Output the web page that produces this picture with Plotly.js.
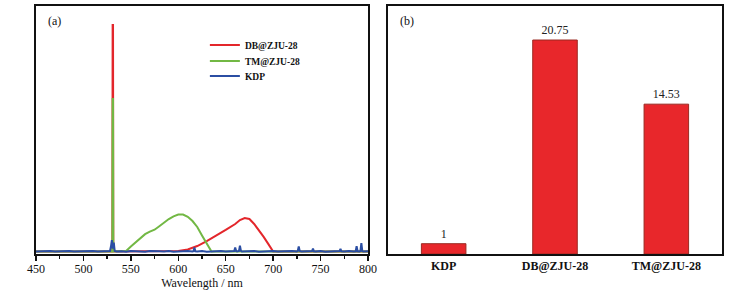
<!DOCTYPE html>
<html>
<head>
<meta charset="utf-8">
<script src="https://cdn.plot.ly/plotly-3.0.1.min.js"></script>
<style>
html,body{margin:0;padding:0;background:#fff;}
#chart{width:745px;height:294px;}
</style>
</head>
<body>
<div id="chart"></div>
<script>
// ---- Panel (a): SHG spectra (arbitrary intensity units) ----
var dbWavelength = [450, 530.5, 530.8, 531.2, 531.5, 600, 610, 620, 630, 640, 650, 660, 665, 670, 675, 680, 685, 690, 695, 700, 800];
var dbIntensity  = [0.010, 0.010, 0.923, 0.923, 0.010, 0.012, 0.018, 0.032, 0.052, 0.073, 0.097, 0.121, 0.137, 0.145, 0.141, 0.121, 0.097, 0.069, 0.040, 0.010, 0.010];

var tmWavelength = [450, 530.5, 530.8, 531.2, 531.5, 545, 550, 555, 560, 565, 570, 575, 580, 585, 590, 595, 600, 605, 610, 615, 620, 625, 630, 635, 800];
var tmIntensity  = [0.010, 0.010, 0.625, 0.625, 0.010, 0.012, 0.030, 0.048, 0.066, 0.080, 0.090, 0.098, 0.112, 0.128, 0.141, 0.152, 0.159, 0.159, 0.150, 0.133, 0.109, 0.075, 0.040, 0.010, 0.010];

var kdpWavelength = [450,455,460,465,470,475,480,485,490,495,500,505,510,515,520,525,528,529,530,531,532,533,535,540,545,550,555,560,565,570,575,580,585,590,595,600,605,610,615,616,617,618,620,625,630,635,640,645,650,655,658,659,660,661,662,664,665,666,667,670,675,680,685,690,695,700,705,710,715,720,725,726,727,728,730,735,740,741,742,743,745,750,755,760,765,770,771,772,775,780,785,787,788,789,791,792,793,794,795,800];
var kdpIntensity  = [0.010,0.011,0.009,0.012,0.010,0.011,0.009,0.012,0.010,0.011,0.009,0.010,0.012,0.010,0.011,0.010,0.012,0.030,0.056,0.022,0.046,0.012,0.010,0.011,0.009,0.012,0.010,0.011,0.009,0.012,0.010,0.011,0.010,0.012,0.009,0.011,0.010,0.012,0.010,0.011,0.026,0.011,0.010,0.012,0.009,0.011,0.010,0.012,0.010,0.011,0.010,0.012,0.026,0.012,0.010,0.012,0.034,0.013,0.010,0.011,0.010,0.012,0.009,0.011,0.010,0.012,0.010,0.011,0.009,0.012,0.010,0.013,0.030,0.012,0.010,0.011,0.010,0.012,0.022,0.011,0.010,0.012,0.009,0.011,0.010,0.012,0.021,0.011,0.010,0.012,0.010,0.011,0.032,0.011,0.010,0.012,0.044,0.012,0.010,0.011];

var seriesNames = ['DB@ZJU-28', 'TM@ZJU-28', 'KDP'];
var xTickVals = [450, 500, 550, 600, 650, 700, 750, 800];

// ---- Panel (b): relative SHG intensity ----
var barCategories = ['KDP', 'DB@ZJU-28', 'TM@ZJU-28'];
var barValues = [1, 20.75, 14.53];
var barLabels = ['1', '20.75', '14.53'];

var serif = 'Liberation Serif, Times New Roman, serif';
var red = '#e3262b', green = '#72b844', blue = '#2b4ea3';

var traces = [
  {x: dbWavelength, y: dbIntensity, type: 'scatter', mode: 'lines', name: seriesNames[0],
   line: {color: red, width: 2}, xaxis: 'x', yaxis: 'y', legend: 'legend'},
  {x: tmWavelength, y: tmIntensity, type: 'scatter', mode: 'lines', name: seriesNames[1],
   line: {color: green, width: 2}, xaxis: 'x', yaxis: 'y', legend: 'legend2'},
  {x: kdpWavelength, y: kdpIntensity, type: 'scatter', mode: 'lines', name: seriesNames[2],
   line: {color: blue, width: 2}, xaxis: 'x', yaxis: 'y', legend: 'legend3'},
  {x: barCategories, y: barValues, type: 'bar', showlegend: false,
   text: barLabels, textposition: 'outside', cliponaxis: false,
   textfont: {family: serif, size: 12, color: '#222'},
   marker: {color: '#e8272b', line: {color: '#9a2a22', width: 1}},
   width: 0.4, xaxis: 'x2', yaxis: 'y2'}
];

var frame = {showline: true, linewidth: 2, linecolor: '#111', mirror: true, showgrid: false, zeroline: false};
function legendAt(yPix) {
  return {x: 0.275, y: 1 - yPix/294, xanchor: 'left', yanchor: 'middle', bgcolor: 'rgba(0,0,0,0)',
          font: {family: serif, size: 9.5, color: '#111', weight: 'bold'}, itemwidth: 30};
}

var layout = {
  width: 745, height: 294,
  margin: {l: 0, r: 0, t: 0, b: 0},
  paper_bgcolor: '#fff', plot_bgcolor: '#fff',
  font: {family: serif, color: '#111'},
  showlegend: true,
  legend: legendAt(45),
  legend2: legendAt(61),
  legend3: legendAt(76),
  xaxis: Object.assign({}, frame, {
    domain: [36/745, 368/745], range: [450, 800], anchor: 'y',
    tickmode: 'array', tickvals: xTickVals, ticks: 'outside', ticklen: 5, tickwidth: 1.5, tickcolor: '#111',
    minor: {dtick: 25, tick0: 450, ticks: 'outside', ticklen: 3, tickwidth: 1.5, tickcolor: '#111'},
    tickfont: {family: serif, size: 12, color: '#111'}, ticklabelstandoff: -2,
    title: {text: 'Wavelength / nm', font: {family: serif, size: 12, color: '#111'}, standoff: 1}
  }),
  yaxis: Object.assign({}, frame, {
    domain: [1 - 254/294, 1 - 6/294], range: [0, 1], anchor: 'x', showticklabels: false, ticks: ''
  }),
  xaxis2: Object.assign({}, frame, {
    domain: [388/745, 722/745], range: [-0.5, 2.5], anchor: 'y2', type: 'category',
    ticks: '', tickfont: {family: serif, size: 12, color: '#111', weight: 'bold'}
  }),
  yaxis2: Object.assign({}, frame, {
    domain: [1 - 254/294, 1 - 6/294], range: [0, 24.05], anchor: 'x2', showticklabels: false, ticks: ''
  }),
  annotations: [
    {text: '(a)', xref: 'paper', yref: 'paper', x: 46/745, y: 1 - 21/294, xanchor: 'left', yanchor: 'middle',
     showarrow: false, font: {family: serif, size: 12, color: '#111'}},
    {text: '(b)', xref: 'paper', yref: 'paper', x: 398/745, y: 1 - 21/294, xanchor: 'left', yanchor: 'middle',
     showarrow: false, font: {family: serif, size: 12, color: '#111'}}
  ]
};

Plotly.newPlot('chart', traces, layout, {staticPlot: true, displayModeBar: false});
</script>
</body>
</html>
